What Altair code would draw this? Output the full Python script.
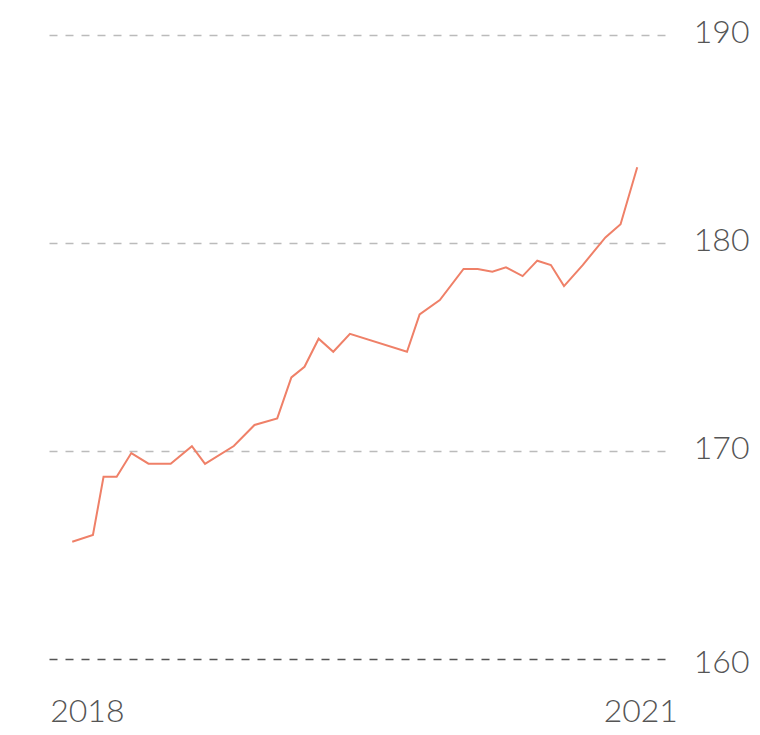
import altair as alt
import pandas as pd

dates = [
    "2017-12-03", "2018-01-13", "2018-02-03", "2018-03-01", "2018-03-30",
    "2018-05-03", "2018-06-16", "2018-07-28", "2018-08-23", "2018-10-19",
    "2018-11-29", "2019-01-13", "2019-02-10", "2019-03-08", "2019-04-05",
    "2019-05-04", "2019-06-06", "2019-09-27", "2019-10-22", "2019-12-01",
    "2020-01-17", "2020-02-14", "2020-03-14", "2020-04-10", "2020-05-13",
    "2020-06-11", "2020-07-08", "2020-08-03", "2020-09-09", "2020-10-24",
    "2020-11-23", "2020-12-26",
]
values = [
    165.64, 165.96, 168.76, 168.76, 169.90,
    169.39, 169.39, 170.23, 169.38, 170.24,
    171.25, 171.57, 173.54, 174.05, 175.40,
    174.77, 175.63, 174.77, 176.57, 177.26,
    178.75, 178.75, 178.62, 178.83, 178.41,
    179.15, 178.94, 177.93, 178.94, 180.27,
    180.90, 183.64,
]
y_ticks = [160, 170, 180, 190]

df = pd.DataFrame({"date": dates, "value": values})

font = "Lato"
text_color = "#555555"

chart = (
    alt.Chart(df)
    .mark_line(color="#ef8068", strokeWidth=2)
    .encode(
        x=alt.X(
            "date:T",
            scale=alt.Scale(
                type="utc",
                domain=[
                    alt.DateTime(year=2017, month=10, date=16, utc=True),
                    alt.DateTime(year=2021, month=2, date=19, utc=True),
                ],
            ),
            axis=alt.Axis(
                title=None,
                values=[
                    alt.DateTime(year=2018, month=1, date=1, utc=True),
                    alt.DateTime(year=2021, month=1, date=1, utc=True),
                ],
                format="%Y",
                formatType="utc",
                grid=False,
                domain=False,
                ticks=False,
                tickSize=0,
                labelFont=font,
                labelFontWeight=300,
                labelFontSize=32,
                labelColor=text_color,
                labelBaseline="alphabetic",
                labelPadding=62,
                labelAlign="center",
                labelFlush=False,
                labelOverlap=False,
            ),
        ),
        y=alt.Y(
            "value:Q",
            scale=alt.Scale(domain=[160, 190], nice=False, zero=False),
            axis=alt.Axis(
                title=None,
                orient="right",
                values=y_ticks,
                grid=True,
                gridDash=[8, 8],
                gridWidth=1.5,
                gridColor=alt.condition("datum.value == 160", alt.value("#555555"), alt.value("#bbbbbb")),
                labelOffset=alt.condition("datum.value == 160", alt.value(3), alt.value(-3)),
                domain=False,
                ticks=False,
                tickSize=0,
                labelFont=font,
                labelFontWeight=300,
                labelFontSize=32,
                labelColor=text_color,
                labelAlign="right",
                labelBaseline="middle",
                labelPadding=84,
                labelFlush=False,
                labelOverlap=False,
            ),
        ),
    )
    .properties(
        width=617,
        height=624,
        autosize=alt.AutoSizeParams(type="none"),
        padding={"left": 40, "top": 27, "right": 87, "bottom": 68},
    )
    .configure_view(stroke=None)
)

chart.save("out.html", embed_options={"renderer": "svg", "actions": False})
